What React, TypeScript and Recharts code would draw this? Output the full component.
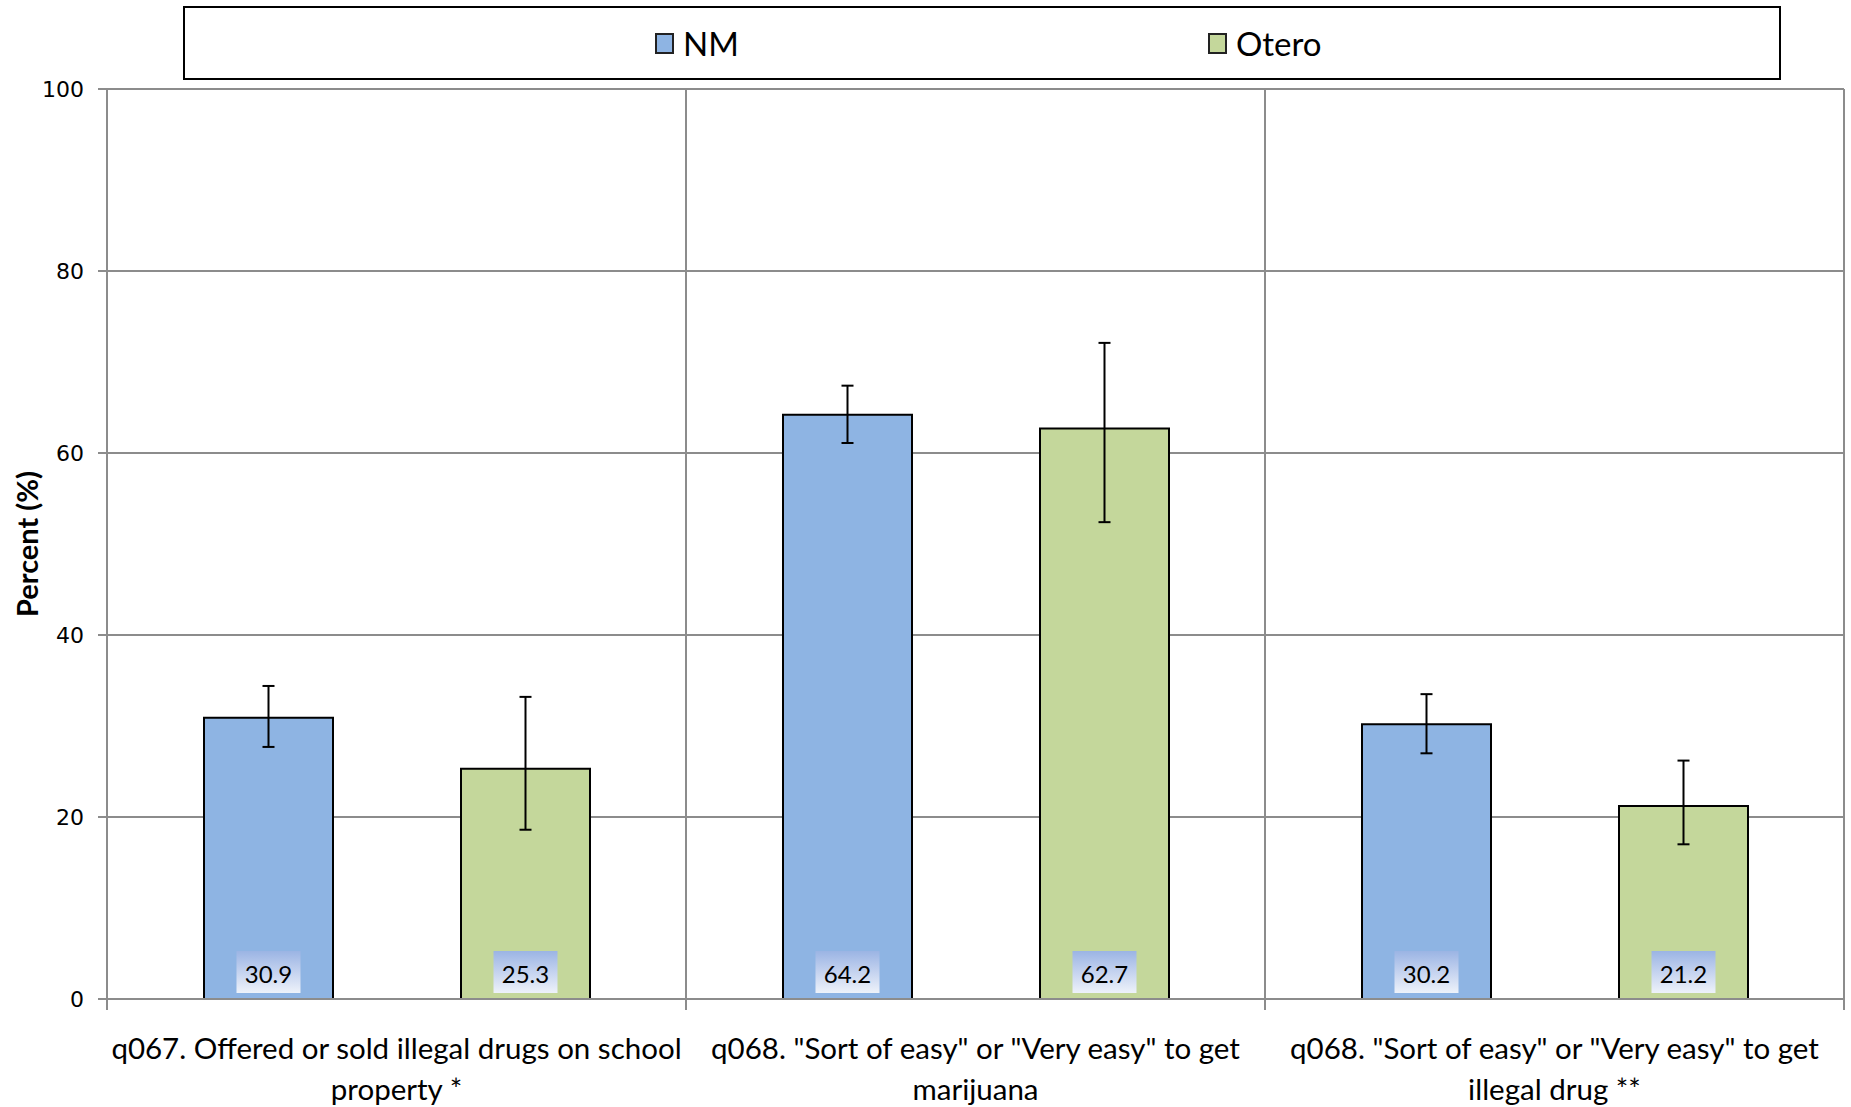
import {
  Bar,
  BarChart,
  CartesianGrid,
  ErrorBar,
  LabelList,
  Legend,
  XAxis,
  YAxis,
} from "recharts";

const categories = [
  'q067. Offered or sold illegal drugs on school property *',
  'q068. "Sort of easy" or "Very easy" to get marijuana',
  'q068. "Sort of easy" or "Very easy" to get illegal drug **',
];
const categoryLines = [
  ["q067. Offered or sold illegal drugs on school", "property *"],
  ['q068. "Sort of easy" or "Very easy" to get', "marijuana"],
  ['q068. "Sort of easy" or "Very easy" to get', "illegal drug **"],
];

const nmValues = [30.9, 64.2, 30.2];
const nmLower = [27.7, 61.1, 27.0];
const nmUpper = [34.4, 67.4, 33.5];

const oteroValues = [25.3, 62.7, 21.2];
const oteroLower = [18.6, 52.4, 17.0];
const oteroUpper = [33.2, 72.1, 26.2];

const yTicks = [0, 20, 40, 60, 80, 100];

const NM_COLOR = "#8EB4E3";
const OTERO_COLOR = "#C4D79B";
const GRID = "#8c8c8c";

const data = categories.map((name, i) => ({
  name,
  nm: nmValues[i],
  nmErr: [+(nmValues[i] - nmLower[i]).toFixed(2), +(nmUpper[i] - nmValues[i]).toFixed(2)],
  otero: oteroValues[i],
  oteroErr: [
    +(oteroValues[i] - oteroLower[i]).toFixed(2),
    +(oteroUpper[i] - oteroValues[i]).toFixed(2),
  ],
}));

function ValueBox(props: any) {
  const { x, y, width, height, value, index } = props;
  const cx = x + width / 2;
  const bottom = y + height;
  const id = `lblgrad-${props.series}-${index}`;
  return (
    <g>
      <defs>
        <linearGradient id={id} x1="0" y1="0" x2="0" y2="1">
          <stop offset="0%" stopColor="#9BB4E4" />
          <stop offset="100%" stopColor="#EEF2FA" />
        </linearGradient>
      </defs>
      <rect x={cx - 32} y={bottom - 48} width={64} height={42} fill={`url(#${id})`} />
      <text
        x={cx}
        y={bottom - 26}
        textAnchor="middle"
        dominantBaseline="central"
        fontFamily="Lato"
        fontSize={24}
        fill="#000"
      >
        {value}
      </text>
    </g>
  );
}

function CategoryTick(props: any) {
  const { x, y, payload, index } = props;
  const off = payload?.offset ?? 289;
  const lines = categoryLines[index] ?? [String(payload.value)];
  return (
    <g>
      <line x1={x - off} x2={x - off} y1={y} y2={y + 11} stroke={GRID} strokeWidth={2} />
      {index === categories.length - 1 && (
        <line x1={x + off} x2={x + off} y1={y} y2={y + 11} stroke={GRID} strokeWidth={2} />
      )}
      {lines.map((l: string, k: number) => (
        <text
          key={k}
          x={x}
          y={y + 60 + k * 41}
          textAnchor="middle"
          fontFamily="Lato"
          fontSize={29.5}
          fill="#000"
        >
          {l}
        </text>
      ))}
    </g>
  );
}

function LegendBox() {
  const items = [
    { name: "NM", color: NM_COLOR, left: 470 },
    { name: "Otero", color: OTERO_COLOR, left: 1023 },
  ];
  return (
    <div
      style={{
        boxSizing: "border-box",
        width: 1598,
        height: 74,
        border: "2px solid #000",
        background: "#fff",
        position: "relative",
        fontFamily: "Lato",
        fontSize: 33,
      }}
    >
      {items.map((it) => (
        <div
          key={it.name}
          style={{
            position: "absolute",
            left: it.left,
            top: 0,
            height: 70,
            display: "flex",
            alignItems: "center",
          }}
        >
          <span
            style={{
              display: "inline-block",
              boxSizing: "border-box",
              width: 19,
              height: 21,
              background: it.color,
              border: "2px solid #222",
              marginRight: 9,
            }}
          />
          <span>{it.name}</span>
        </div>
      ))}
    </div>
  );
}

export default function App() {
  return (
    <div style={{ position: "absolute", left: 0, top: 0, width: 1851, height: 1107, background: "#fff" }}>
      <BarChart
        width={1851}
        height={1107}
        data={data}
        margin={{ top: 89, right: 7, left: 0, bottom: 0 }}
        barSize={129}
        barGap={128}
      >
        <CartesianGrid
          stroke={GRID}
          strokeWidth={2}
          verticalCoordinatesGenerator={({ offset }: any) =>
            [1, 2, 3].map((i) => offset.left + (offset.width * i) / 3)
          }
        />
        <XAxis
          dataKey="name"
          height={108}
          axisLine={{ stroke: GRID, strokeWidth: 2 }}
          tickLine={false}
          tickSize={0}
          tickMargin={0}
          interval={0}
          tick={<CategoryTick />}
        />
        <YAxis
          width={107}
          domain={[0, 100]}
          ticks={yTicks}
          interval={0}
          axisLine={{ stroke: GRID, strokeWidth: 2 }}
          tickLine={{ stroke: GRID, strokeWidth: 2 }}
          tickSize={9}
          tickMargin={14}
          tick={{ fontFamily: "DejaVu Sans", fontSize: 22, fill: "#000" }}
          label={({ viewBox }: any) => (
            <text
              x={viewBox.x + 26}
              y={viewBox.y + viewBox.height / 2}
              transform={`rotate(-90 ${viewBox.x + 26} ${viewBox.y + viewBox.height / 2})`}
              textAnchor="middle"
              dominantBaseline="central"
              fontFamily="Lato"
              fontWeight="bold"
              fontSize={29}
              fill="#000"
            >
              Percent (%)
            </text>
          )}
        />
        <Legend
          verticalAlign="middle"
          align="center"
          layout="horizontal"
          wrapperStyle={{ top: 6, left: 183, width: 1598, height: 74 }}
          content={() => <LegendBox />}
        />
        <Bar dataKey="nm" name="NM" fill={NM_COLOR} stroke="#000" strokeWidth={2} isAnimationActive={false}>
          <ErrorBar dataKey="nmErr" width={6} stroke="#000" strokeWidth={2} direction="y" />
          <LabelList dataKey="nm" content={(p: any) => <ValueBox {...p} series="nm" />} />
        </Bar>
        <Bar dataKey="otero" name="Otero" fill={OTERO_COLOR} stroke="#000" strokeWidth={2} isAnimationActive={false}>
          <ErrorBar dataKey="oteroErr" width={6} stroke="#000" strokeWidth={2} direction="y" />
          <LabelList dataKey="otero" content={(p: any) => <ValueBox {...p} series="otero" />} />
        </Bar>
      </BarChart>
    </div>
  );
}
